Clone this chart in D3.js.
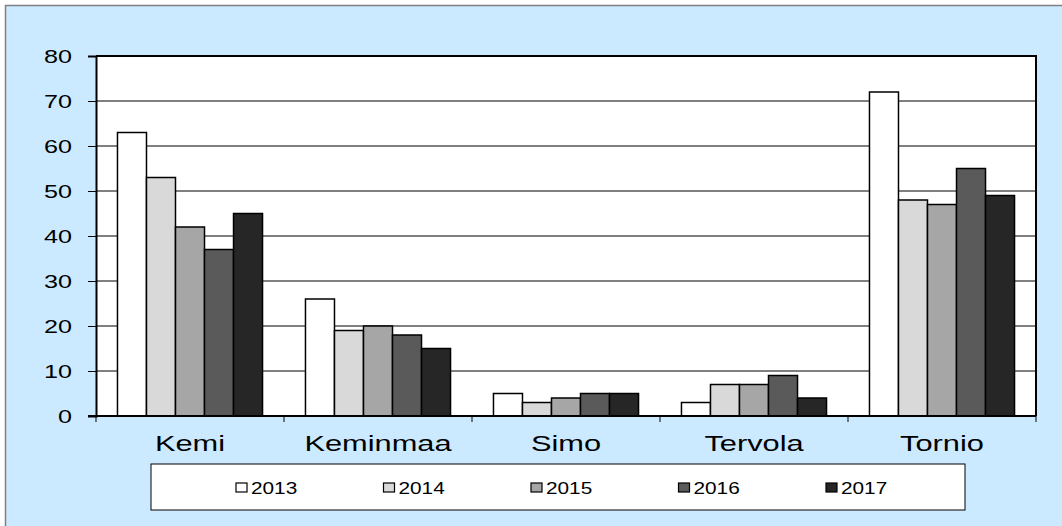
<!DOCTYPE html>
<html>
<head>
<meta charset="utf-8">
<script src="https://cdn.jsdelivr.net/npm/d3@7"></script>
<style>
  body { margin: 0; background: #fff; }
  svg { display: block; font-family: "Liberation Sans", Arial, sans-serif; }
</style>
</head>
<body>
<svg width="1062" height="526"></svg>
<script>
const categories = ['Kemi', 'Keminmaa', 'Simo', 'Tervola', 'Tornio'];
const years = ['2013', '2014', '2015', '2016', '2017'];
const values2013 = [63, 26, 5, 3, 72];
const values2014 = [53, 19, 3, 7, 48];
const values2015 = [42, 20, 4, 7, 47];
const values2016 = [37, 18, 5, 9, 55];
const values2017 = [45, 15, 5, 4, 49];
const yTicks = [0, 10, 20, 30, 40, 50, 60, 70, 80];

const series = [values2013, values2014, values2015, values2016, values2017];
const colors = ['#ffffff', '#d9d9d9', '#a6a6a6', '#5a5a5a', '#262626'];
const stretch = 1.4; // the original chart's text is widened horizontally

const svg = d3.select('svg');

// background panel
svg.append('rect')
	.attr('x', 5.5).attr('y', 5.5)
	.attr('width', 1070).attr('height', 530)
	.attr('fill', '#cceaff')
	.attr('stroke', '#808080')
	.attr('stroke-width', 1.5);

const plot = { left: 96, top: 56, right: 1036, bottom: 416 };

const x = d3.scaleBand().domain(categories).range([plot.left, plot.right]);
const xInner = d3.scaleBand().domain(years).range([0, x.bandwidth()]).paddingOuter(0.74);
const y = d3.scaleLinear().domain([0, 80]).range([plot.bottom, plot.top]);

const g = svg.append('g');

g.append('rect')
	.attr('x', plot.left).attr('y', plot.top)
	.attr('width', plot.right - plot.left).attr('height', plot.bottom - plot.top)
	.attr('fill', '#fff');

// gridlines
g.selectAll('line.grid')
	.data(yTicks.filter(d => d > 0))
	.join('line')
	.attr('class', 'grid')
	.attr('x1', plot.left).attr('x2', plot.right)
	.attr('y1', d => y(d)).attr('y2', d => y(d))
	.attr('stroke', '#000').attr('stroke-width', 1);

// bars
categories.forEach((c, ci) => {
	g.selectAll(null)
		.data(years)
		.join('rect')
		.attr('x', yr => x(c) + xInner(yr))
		.attr('y', (yr, i) => y(series[i][ci]))
		.attr('width', xInner.bandwidth())
		.attr('height', (yr, i) => plot.bottom - y(series[i][ci]))
		.attr('fill', (yr, i) => colors[i])
		.attr('stroke', '#000')
		.attr('stroke-width', 1.5);
});

// plot border right/top
g.append('path')
	.attr('d', `M${plot.left},${plot.top}H${plot.right}V${plot.bottom}`)
	.attr('fill', 'none').attr('stroke', '#000').attr('stroke-width', 2);

// y axis
const yAxis = d3.axisLeft(y).tickValues(yTicks).tickSize(8).tickFormat('');
const ya = svg.append('g').attr('transform', `translate(${plot.left},0)`).call(yAxis);
ya.select('.domain').attr('stroke-width', 2);
svg.append('g').selectAll('text')
	.data(yTicks)
	.join('text')
	.attr('transform', d => `translate(72,${y(d) + 6.5}) scale(${stretch},1)`)
	.attr('text-anchor', 'end')
	.attr('font-size', 18)
	.text(d => d);

// x axis
const xa = svg.append('g').attr('transform', `translate(0,${plot.bottom})`);
xa.append('line').attr('x1', plot.left - 8).attr('x2', plot.right).attr('stroke', '#000').attr('stroke-width', 2);
xa.selectAll('line.tick')
	.data(categories.map(c => x(c)).concat([plot.right]))
	.join('line')
	.attr('class', 'tick')
	.attr('x1', d => d).attr('x2', d => d)
	.attr('y1', 0).attr('y2', 6)
	.attr('stroke', '#000');
xa.selectAll('text')
	.data(categories)
	.join('text')
	.attr('transform', d => `translate(${x(d) + x.bandwidth() / 2},35) scale(${stretch},1)`)
	.attr('text-anchor', 'middle')
	.attr('font-size', 22)
	.text(d => d);

// legend
const legend = svg.append('g');
legend.append('rect')
	.attr('x', 151).attr('y', 464)
	.attr('width', 814).attr('height', 46)
	.attr('fill', '#fff').attr('stroke', '#000').attr('stroke-width', 1);

const lx = d3.scalePoint().domain(years).range([236, 826]);
const items = legend.selectAll('g.item').data(years).join('g')
	.attr('transform', d => `translate(${lx(d)},488)`);
items.append('rect')
	.attr('x', 0).attr('y', -5)
	.attr('width', 11).attr('height', 9)
	.attr('fill', (d, i) => colors[i])
	.attr('stroke', '#000').attr('stroke-width', 1.2);
items.append('text')
	.attr('transform', `translate(15,6) scale(1.3,1)`)
	.attr('font-size', 16)
	.text(d => d);
</script>
</body>
</html>
